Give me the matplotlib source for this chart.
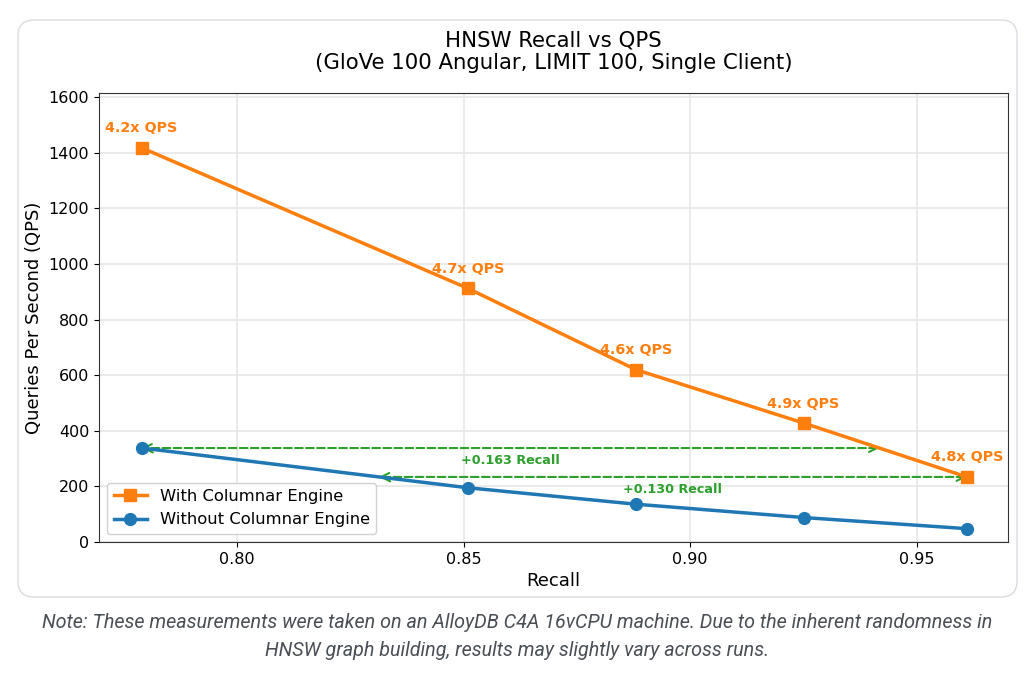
import numpy as np
import matplotlib
matplotlib.use("Agg")
import matplotlib.pyplot as plt
from matplotlib.patches import FancyBboxPatch
from matplotlib.transforms import IdentityTransform

plt.rcParams['font.family'] = ['DejaVu Sans']

recall = [0.779, 0.851, 0.888, 0.925, 0.961]
qps_with = [1418, 912, 620, 428, 234]
qps_without = [338, 195, 136, 88, 48]
speedup_labels = ["4.2x QPS", "4.7x QPS", "4.6x QPS", "4.9x QPS", "4.8x QPS"]
gain_labels = ["+0.163 Recall", "+0.130 Recall"]

W, H, DPI = 1024, 681, 100
fig = plt.figure(figsize=(W / DPI, H / DPI), dpi=DPI)
fig.patch.set_facecolor("white")

card = FancyBboxPatch((18, H - 597), 999, 577,
                      boxstyle="round,pad=0,rounding_size=16",
                      transform=IdentityTransform(), facecolor="white",
                      edgecolor="#dadce0", linewidth=1.0, zorder=-5)
fig.patches.append(card)

ax = fig.add_axes([99 / W, (H - 542) / H, (1008 - 99) / W, (542 - 93) / H])
ax.set_facecolor("white")

ax.plot(recall, qps_with, color="#ff7f0e", marker="s", markersize=8.5,
        linewidth=2.5, label="With Columnar Engine", zorder=3)
ax.plot(recall, qps_without, color="#1f77b4", marker="o", markersize=8.5,
        linewidth=2.5, label="Without Columnar Engine", zorder=3)

for xv, yv, lab in zip(recall, qps_with, speedup_labels):
    ax.annotate(lab, (xv, yv), xytext=(0, 9), textcoords="offset points",
                ha="center", va="bottom", color="#ff7f0e",
                fontsize=10.3, fontweight="bold", annotation_clip=False)

# Recall gain arrows at equal QPS
rec_with_rev = recall[::-1]
qw_rev = qps_with[::-1]
qwo_rev = qps_without[::-1]
y1 = qps_without[0]
x1a = recall[0]
x1b = float(np.interp(y1, qw_rev, rec_with_rev))
y2 = qps_with[-1]
x2b = recall[-1]
x2a = float(np.interp(y2, qwo_rev, rec_with_rev))

for (xa, xb, yy, lab) in [(x1a, x1b, y1, gain_labels[0]), (x2a, x2b, y2, gain_labels[1])]:
    ax.annotate("", xy=(xa, yy), xytext=(xb, yy),
                arrowprops=dict(arrowstyle="<->", color="#2ca02c", lw=1.5,
                                linestyle="--", shrinkA=0, shrinkB=0,
                                mutation_scale=16), zorder=2)
    ax.annotate(lab, ((xa + xb) / 2, yy), xytext=(0, -9), textcoords="offset points",
                ha="center", va="center", color="#2ca02c", fontsize=9.2,
                fontweight="bold")

ax.set_xlim(0.7696, 0.9701)
ax.set_ylim(0, 1615)
ax.set_xticks([0.80, 0.85, 0.90, 0.95])
ax.set_xticklabels(["0.80", "0.85", "0.90", "0.95"])
ax.set_yticks(range(0, 1601, 200))
ax.tick_params(labelsize=11.5)
ax.grid(True, color="#e6e6e6", linewidth=1.2)
ax.set_axisbelow(True)
for s in ax.spines.values():
    s.set_color("#333333")

ax.set_xlabel("Recall", fontsize=13)
ax.set_ylabel("Queries Per Second (QPS)", fontsize=13)
ax.set_title("HNSW Recall vs QPS\n(GloVe 100 Angular, LIMIT 100, Single Client)",
             fontsize=15.3, pad=17, linespacing=1.2)

ax.legend(loc="lower left", fontsize=11.8, framealpha=0.9)

fig.text(517 / W, 1 - 622 / H,
         "Note: These measurements were taken on an AlloyDB C4A 16vCPU machine. Due to the inherent randomness in",
         ha="center", va="center", fontsize=14.2, style="italic", color="#4a4f55",
         family="Roboto")
fig.text(517 / W, 1 - 650 / H,
         "HNSW graph building, results may slightly vary across runs.",
         ha="center", va="center", fontsize=14.2, style="italic", color="#4a4f55",
         family="Roboto")

fig.savefig("out.png", dpi=DPI)
